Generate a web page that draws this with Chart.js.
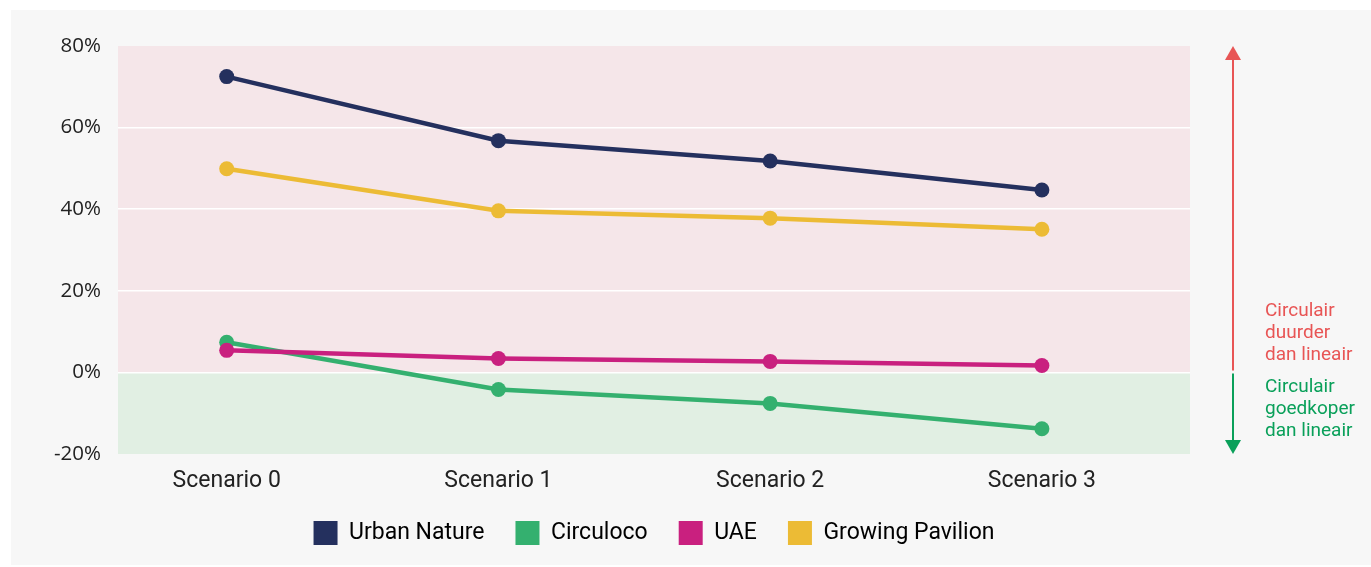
<!DOCTYPE html>
<html>
<head>
<meta charset="utf-8">
<script src="https://cdn.jsdelivr.net/npm/chart.js@4"></script>
<style>
  html, body { margin: 0; padding: 0; background: #ffffff; }
  #panel { position: absolute; left: 11px; top: 10px; width: 1360px; height: 555px; background: #f7f7f7; }
  canvas { display: block; }
</style>
</head>
<body>
<div id="panel"><canvas id="chart" width="1360" height="555"></canvas></div>
<script>
// Scenario comparison: cost difference circulair vs lineair

const scenarios = ['Scenario 0', 'Scenario 1', 'Scenario 2', 'Scenario 3'];

const urbanNature = [72.5, 56.8, 51.8, 44.7];
const circuloco = [7.4, -4.2, -7.6, -13.8];
const uae = [5.4, 3.4, 2.7, 1.7];
const growingPavilion = [49.9, 39.6, 37.8, 35.1];

const yTicks = [-20, 0, 20, 40, 60, 80];

const COLORS = {
  urban: '#24305e',
  circuloco: '#34b06f',
  uae: '#c9207f',
  growing: '#ecbb35',
  pinkBand: '#f5e6e9',
  greenBand: '#e1efe3',
  red: '#e85555',
  green: '#0aa05a'
};

const toPoints = (arr) => arr.map((v, i) => ({ x: i, y: v }));

const series = (label, values, color, order) => ({
  label: label,
  data: toPoints(values),
  borderColor: color,
  backgroundColor: color,
  borderWidth: 4.5,
  pointRadius: 7.5,
  pointHoverRadius: 7.5,
  pointBorderWidth: 0,
  tension: 0,
  order: order
});

// Background bands (duurder / goedkoper)
const bandPlugin = {
  id: 'bands',
  beforeDraw(chart) {
    const { ctx, chartArea, scales } = chart;
    const y = scales.y;
    const top = y.getPixelForValue(80);
    const zero = y.getPixelForValue(0);
    const bottom = y.getPixelForValue(-20);
    ctx.save();
    ctx.fillStyle = COLORS.pinkBand;
    ctx.fillRect(chartArea.left, top, chartArea.right - chartArea.left, zero - top);
    ctx.fillStyle = COLORS.greenBand;
    ctx.fillRect(chartArea.left, zero, chartArea.right - chartArea.left, bottom - zero);
    ctx.restore();
  }
};

// Arrows + notes on the right
const arrowPlugin = {
  id: 'arrows',
  afterDraw(chart) {
    const { ctx, chartArea, scales } = chart;
    const y = scales.y;
    const x = chartArea.right + 43;
    const top = y.getPixelForValue(80);
    const zero = y.getPixelForValue(0);
    const bottom = y.getPixelForValue(-20);

    ctx.save();
    ctx.lineWidth = 2;

    // red up arrow
    ctx.strokeStyle = COLORS.red;
    ctx.fillStyle = COLORS.red;
    ctx.beginPath();
    ctx.moveTo(x, zero - 2);
    ctx.lineTo(x, top + 10);
    ctx.stroke();
    ctx.beginPath();
    ctx.moveTo(x, top);
    ctx.lineTo(x - 8, top + 14);
    ctx.lineTo(x + 8, top + 14);
    ctx.closePath();
    ctx.fill();

    // green down arrow
    ctx.strokeStyle = COLORS.green;
    ctx.fillStyle = COLORS.green;
    ctx.beginPath();
    ctx.moveTo(x, zero + 1);
    ctx.lineTo(x, bottom - 10);
    ctx.stroke();
    ctx.beginPath();
    ctx.moveTo(x, bottom);
    ctx.lineTo(x - 8, bottom - 14);
    ctx.lineTo(x + 8, bottom - 14);
    ctx.closePath();
    ctx.fill();

    ctx.font = '19px Roboto';
    ctx.textAlign = 'left';
    ctx.textBaseline = 'middle';
    const tx = x + 32;
    ctx.fillStyle = COLORS.red;
    ['Circulair', 'duurder', 'dan lineair'].forEach((t, i) => ctx.fillText(t, tx, zero - 61 + i * 22));
    ctx.fillStyle = COLORS.green;
    ['Circulair', 'goedkoper', 'dan lineair'].forEach((t, i) => ctx.fillText(t, tx, zero + 15 + i * 22));
    ctx.restore();
  }
};

new Chart(document.getElementById('chart'), {
  type: 'line',
  plugins: [bandPlugin, arrowPlugin],
  data: {
    datasets: [
      series('Urban Nature', urbanNature, COLORS.urban, 1),
      series('Circuloco', circuloco, COLORS.circuloco, 1),
      series('UAE', uae, COLORS.uae, 0),
      series('Growing Pavilion', growingPavilion, COLORS.growing, 1)
    ]
  },
  options: {
    responsive: false,
    animation: false,
    layout: { padding: { top: 36, right: 181, left: 0, bottom: 10 } },
    plugins: {
      tooltip: { enabled: false },
      legend: {
        position: 'bottom',
        fullSize: false,
        labels: {
          sort: (a, b) => a.datasetIndex - b.datasetIndex,
          boxWidth: 24,
          boxHeight: 24,
          padding: 31,
          color: '#111',
          font: { family: 'Roboto', size: 23 },
          generateLabels(chart) {
            return chart.data.datasets.map((ds, i) => ({
              text: ds.label,
              fillStyle: ds.borderColor,
              strokeStyle: ds.borderColor,
              lineWidth: 0,
              datasetIndex: i,
              hidden: false
            }));
          }
        }
      }
    },
    scales: {
      x: {
        type: 'linear',
        min: -0.4,
        max: 3.545,
        grid: { display: false },
        border: { display: false },
        afterFit(scale) { scale.height = 36; },
        ticks: {
          stepSize: 1,
          includeBounds: false,
          padding: 5,
          color: '#222',
          font: { family: 'Roboto', size: 23 },
          callback: (v) => Number.isInteger(v) ? (scenarios[v] || '') : ''
        }
      },
      y: {
        min: -20,
        max: 80,
        border: { display: false },
        afterFit(scale) { scale.width = 107; },
        afterBuildTicks(scale) { scale.ticks = yTicks.map(v => ({ value: v })); },
        grid: {
          color: (c) => (c.tick && (c.tick.value === 80 || c.tick.value === -20)) ? 'rgba(0,0,0,0)' : '#ffffff',
          lineWidth: 1.5,
          drawTicks: false
        },
        ticks: {
          padding: 17,
          color: '#222',
          font: { family: 'Open Sans', size: 20.5 },
          callback: (v) => v + '%'
        }
      }
    }
  }
});
</script>
</body>
</html>
